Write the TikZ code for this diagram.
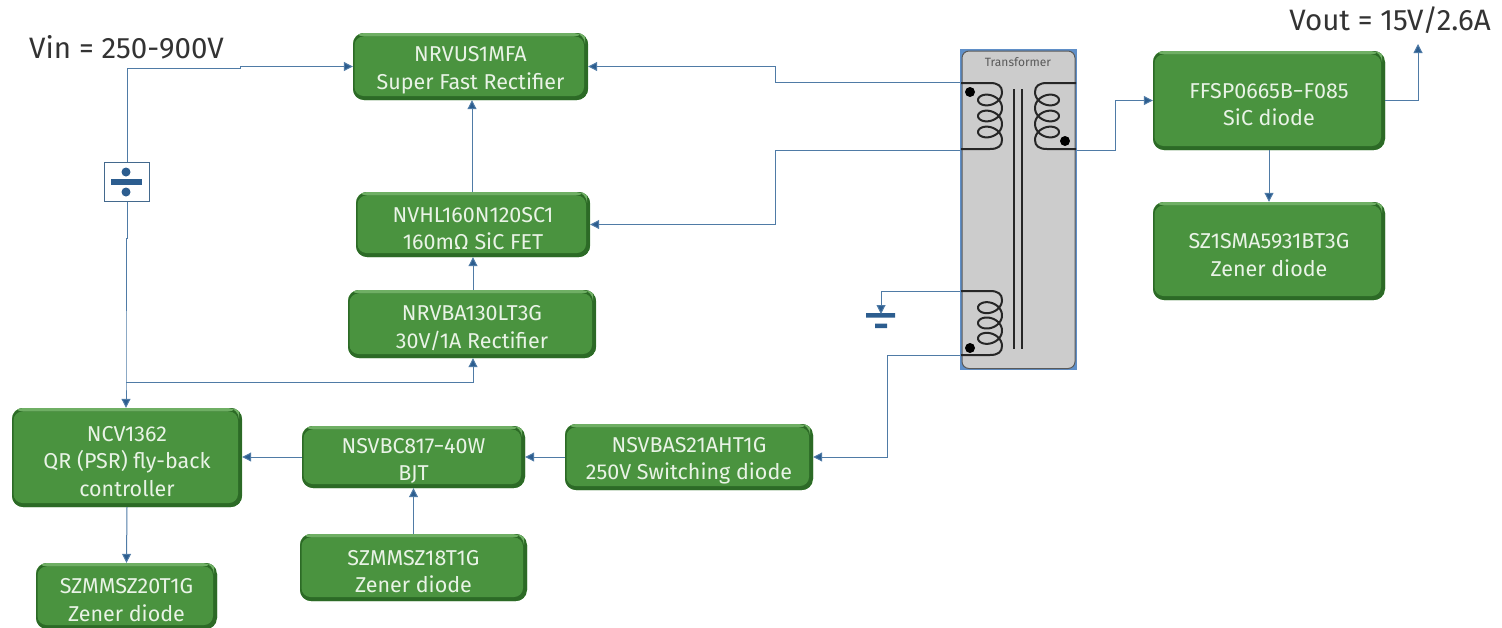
\documentclass[tikz,border=0pt]{standalone}
\usepackage{fontspec}
\setmainfont{Fira Sans}
\usetikzlibrary{arrows.meta,calc}
\definecolor{boxgreen}{HTML}{4A933F}
\definecolor{boxdark}{HTML}{2C6A26}
\definecolor{boxlight}{HTML}{6FAF64}
\definecolor{wire}{HTML}{4F7BA6}
\definecolor{symb}{HTML}{2C5D8F}
\definecolor{txtc}{HTML}{E9F3E6}
\definecolor{xfill}{HTML}{CCCCCC}
\definecolor{xblue}{HTML}{5F8FC8}
\definecolor{labelc}{HTML}{333333}
\newcommand{\tf}{\rule{0pt}{23pt}}
\tikzset{
  gbox/.style={rounded corners=11pt,fill=boxgreen,text=txtc,align=center,inner sep=0pt,
    font=\fontsize{21.5}{27.5}\selectfont,
    path picture={
      \fill[boxdark] (path picture bounding box.south west) rectangle (path picture bounding box.north east);
      \fill[boxlight] ($(path picture bounding box.north west)+(0,0)$) rectangle ($(path picture bounding box.north east)+(-3,3.5)$);
      \fill[boxgreen,rounded corners=9pt] ($(path picture bounding box.north west)+(1.5,3.5)$) rectangle ($(path picture bounding box.south east)+(-4,-4)$);
    }},
  conn/.style={draw=wire,line width=1pt,-{Triangle[length=9pt,width=9pt,fill=symb]}},
  plain/.style={draw=wire,line width=1pt},
  coilline/.style={draw=black!85,line width=2pt,line join=round},
  bigtext/.style={text=labelc,font=\fontsize{29.5}{34}\selectfont,inner sep=0pt},
  divbox/.style={draw=wire!85!black,line width=1pt,fill=white,inner sep=0pt,minimum width=45pt,minimum height=39pt}
}
\newcommand{\coilshape}[2]{% top y, bottom y; terminal at x=0, bulge to x=41
  \draw[coilline] (0,#1) -- (29,#1) .. controls (37,#1) and (41,#1+3) .. (41,#1+9)
    -- plot[smooth,samples=120,domain=0:1080] ({29+12*cos(\x)},{#1+9+(#2-#1-18)*(\x/1080)+9*sin(\x)})
    .. controls (41,#2-3) and (37,#2) .. (29,#2) -- (0,#2);
}
\begin{document}
\begin{tikzpicture}[x=1pt,y=-1pt]
\useasboundingbox (0,0) rectangle (1502,627);

% boxes
\node[gbox,minimum width=235pt,minimum height=67pt] (rect) at (470.5,66.5) {\tf NRVUS1MFA\\Super Fast Rectifier};
\node[gbox,minimum width=234pt,minimum height=65pt] (fet) at (473,224.5) {\tf NVHL160N120SC1\\160mΩ SiC FET};
\node[gbox,minimum width=248pt,minimum height=68pt] (rb) at (472,324) {\tf NRVBA130LT3G\\30V/1A Rectifier};
\node[gbox,minimum width=230pt,minimum height=99pt] (ncv) at (127,457.5) {\tf NCV1362\\QR (PSR) fly-back\\controller};
\node[gbox,minimum width=223pt,minimum height=62pt] (bjt) at (413.5,457) {\tf NSVBC817\textminus40W\\BJT};
\node[gbox,minimum width=248pt,minimum height=66pt] (sw) at (689,457) {\tf NSVBAS21AHT1G\\250V Switching diode};
\node[gbox,minimum width=227pt,minimum height=67pt] (z18) at (413.5,567.5) {\tf SZMMSZ18T1G\\Zener diode};
\node[gbox,minimum width=181pt,minimum height=66pt] (z20) at (126.5,596) {\tf SZMMSZ20T1G\\Zener diode};
\node[gbox,minimum width=232pt,minimum height=99pt] (sic) at (1269,100.5) {\tf FFSP0665B\textminus F085\\SiC diode};
\node[gbox,minimum width=232pt,minimum height=98pt] (z1) at (1269,251) {\tf SZ1SMA5931BT3G\\Zener diode};

% transformer
\node[draw=xblue,line width=1.5pt,fill=xblue,minimum width=116pt,minimum height=320pt,inner sep=0pt] (xf) at (1018.5,209.5) {};
\fill[xfill,draw=black!65,line width=1pt,rounded corners=7pt] (962,51) rectangle (1075,368.5);
\node[text=black!65,font=\fontsize{12}{14}\selectfont,inner sep=0pt] (xft) at (1018,62) {Transformer};
\draw[black!85,line width=1.4pt] (1014,89) -- (1014,349) (1022,89) -- (1022,349);
\begin{scope}[shift={(961,0)}]
  \coilshape{83}{149}
  \coilshape{291}{355}
\end{scope}
\begin{scope}[shift={(1076,0)},xscale=-1]
  \coilshape{83}{149}
\end{scope}
\fill[black] (970,92) circle (5pt) (1065,141) circle (5pt) (970,348) circle (5pt);
\coordinate (p1) at (xf.west |- 0,82);
\coordinate (p2) at (xf.west |- 0,150);
\coordinate (s1) at (xf.east |- 0,150);
\coordinate (a1) at (xf.west |- 0,291);
\coordinate (a2) at (xf.west |- 0,355);

% labels
\node[bigtext,anchor=west] (vin) at (29,47) {Vin = 250-900V};
\node[bigtext,anchor=east] (vout) at (1491,20) {Vout = 15V/2.6A};

% divider
\node[divbox] (div) at (126.5,181.5) {};
\fill[symb] (126,172) circle (4.5pt) (126,192) circle (4.5pt);
\fill[symb] (110.5,179) rectangle (141.5,185);

% ground
\coordinate (gnd) at (880.5,314);
\fill[symb] (866,313) rectangle (895,317.5) (875,323.5) rectangle (887,328);

% connectors
\coordinate (vinj) at (127,68);
\coordinate (vink) at (240,68);
\coordinate (junc) at (126,382);
\draw[conn] (vinj) -- (vink) -- (vink |- rect.west) -- (rect.west);
\draw[plain] (vinj) -- (div.north -| vinj);
\draw[conn] (div.south -| vinj) -- (127,238) -- (126,238) -- (junc) -- (ncv.north -| junc);
\draw[conn] (junc) -- (473,382) -- (rb.south -| 473,0);
\draw[conn] (rb.north -| 473,0) -- (fet.south -| 473,0);
\draw[conn] (fet.north -| 472,0) -- (rect.south -| 472,0);
\draw[conn] (p1) -- (775,82) -- (775,66.5) -- (rect.east);
\draw[conn] (p2) -- (775,150) -- (775,224.5) -- (fet.east);
\draw[conn] (s1) -- (1115,150) -- (1115,100.5) -- (sic.west);
\draw[conn] (sic.east) -- (1418,100.5) -- (1418,44);
\draw[conn] (sic.south) -- (z1.north);
\draw[conn] (a1) -- (881,291) -- (gnd -| 881,0);
\draw[conn] (a2) -- (887,355) -- (887,457) -- (sw.east);
\draw[conn] (sw.west) -- (bjt.east);
\draw[conn] (bjt.west) -- (ncv.east |- bjt.west);
\draw[conn] (z18.north) -- (bjt.south);
\draw[conn] (ncv.south) -- (z20.north);
\end{tikzpicture}
\end{document}
